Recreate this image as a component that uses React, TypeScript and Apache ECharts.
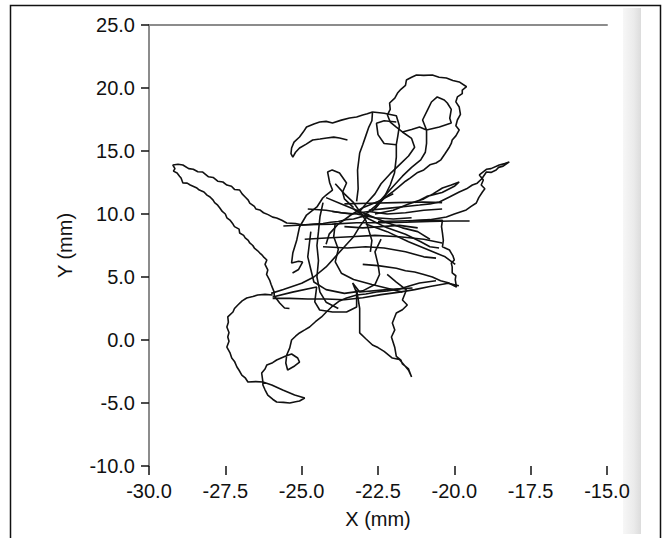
import React, { useEffect, useRef } from "react";
import * as echarts from "echarts";

const xTicks = [-30, -27.5, -25, -22.5, -20, -17.5, -15];
const yTicks = [-10, -5, 0, 5, 10, 15, 20, 25];

const wing = [[-22.8,9.9],[-23.1,9.75],[-23.3,9.6],[-23.55,9.55],[-23.8,9.4],[-24.05,9.35],[-24.3,9.25],[-24.6,9.2],[-24.97,9.13],[-25.2,9.25],[-25.49,9.29],[-25.65,9.5],[-25.82,9.68],[-25.95,9.75],[-26.1,9.95],[-26.25,10.1],[-26.37,10.32],[-26.5,10.4],[-26.55,10.6],[-26.7,10.87],[-26.75,11.1],[-26.85,11.35],[-26.95,11.6],[-27.03,11.9],[-27.2,11.95],[-27.3,12.2],[-27.45,12.3],[-27.58,12.54],[-27.75,12.6],[-27.9,12.9],[-28.05,12.95],[-28.24,13.33],[-28.4,13.35],[-28.55,13.55],[-28.7,13.6],[-28.89,13.89],[-29.05,13.95],[-29.22,13.89],[-29.15,13.6],[-29.2,13.4],[-29.08,13.25],[-29.0,13.0],[-28.95,12.85],[-28.89,12.46],[-28.75,12.45],[-28.65,12.3],[-28.43,12.06],[-28.35,11.9],[-28.2,11.75],[-28.1,11.5],[-28.0,11.35],[-27.9,11.1],[-27.85,10.9],[-27.75,10.7],[-27.68,10.48],[-27.6,10.2],[-27.5,10.0],[-27.45,9.7],[-27.35,9.52],[-27.25,9.2],[-27.2,9.0],[-27.05,8.8],[-27.03,8.49],[-26.9,8.3],[-26.85,8.1],[-26.75,7.9],[-26.7,7.7],[-26.6,7.5],[-26.55,7.3],[-26.45,7.1],[-26.37,6.9],[-26.3,6.75],[-26.25,6.6],[-26.14,6.35],[-26.2,6.0],[-26.11,5.56],[-26.15,5.2],[-26.05,4.76],[-26.0,4.4],[-25.95,4.1],[-25.9,3.8],[-25.9,3.5],[-25.8,3.2],[-25.72,2.94],[-25.56,2.54],[-25.4,2.5]];
const lowerLoop = [[-25.95,3.57],[-26.2,3.62],[-26.44,3.57],[-26.6,3.45],[-26.8,3.33],[-26.95,3.1],[-27.09,2.78],[-27.2,2.5],[-27.25,2.22],[-27.42,1.83],[-27.4,1.4],[-27.45,1.03],[-27.38,0.6],[-27.42,0.24],[-27.38,-0.1],[-27.45,-0.56],[-27.35,-1.0],[-27.29,-1.43],[-27.2,-1.7],[-27.12,-2.14],[-27.05,-2.4],[-26.96,-2.78],[-26.85,-3.0],[-26.76,-3.33],[-26.5,-3.3],[-26.27,-3.33],[-26.27,-3.57],[-26.2,-3.95],[-26.11,-4.37],[-25.95,-4.7],[-25.82,-4.92],[-25.6,-4.95],[-25.39,-5.0],[-25.2,-4.9],[-25.07,-4.84],[-24.9,-4.6],[-25.23,-4.37],[-25.62,-3.97],[-25.98,-3.57],[-26.27,-3.33],[-26.31,-2.62],[-26.2,-2.3],[-26.14,-1.98],[-25.95,-1.8],[-25.82,-1.59],[-25.52,-1.27],[-25.33,-1.11],[-25.13,-1.43],[-25.07,-1.75],[-25.23,-2.06],[-25.46,-2.38],[-25.52,-1.83],[-25.49,-1.19],[-25.39,-0.63],[-25.33,0.0],[-25.2,0.3],[-25.07,0.56],[-24.9,0.8],[-24.74,1.03],[-24.55,1.45],[-24.35,1.83],[-24.2,2.2],[-24.02,2.62],[-23.9,2.85],[-23.76,3.1],[-23.53,3.33],[-23.2,3.57],[-22.9,3.65],[-22.55,3.81],[-22.2,3.9],[-21.8,4.05],[-21.45,4.3],[-21.14,4.52],[-20.6,4.7]];
const midLine = [[-25.95,3.3],[-25.4,3.3],[-24.8,3.25],[-24.2,3.25],[-23.6,3.2],[-23.0,3.35],[-22.4,3.6],[-21.8,3.8],[-21.3,4.0],[-20.8,4.25],[-20.2,4.5],[-19.85,4.3]];
const longLine = [[-25.6,9.05],[-24.8,9.15],[-24.0,9.2],[-23.2,9.3],[-22.4,9.3],[-21.6,9.35],[-20.8,9.4],[-20.1,9.45],[-19.5,9.45]];
const smallLoop = [[-25.95,3.41],[-25.3,3.8],[-24.51,4.2],[-24.57,3.02],[-24.41,2.38],[-23.99,2.22],[-23.53,2.22],[-23.2,2.62],[-23.2,3.73],[-23.33,4.52],[-23.1,3.81],[-22.2,4.0],[-21.37,4.13]];
const rightBulge = [[-22.5,9.4],[-21.8,9.45],[-21.0,9.5],[-20.39,9.5],[-20.42,9.0],[-20.39,8.5],[-20.36,7.9],[-20.39,7.4],[-20.16,7.14],[-20.1,6.9],[-20.05,6.7],[-20.0,6.35],[-20.1,6.1],[-20.07,5.8],[-20.07,5.32],[-19.95,5.1],[-19.97,4.8],[-19.93,4.2],[-20.2,4.55],[-20.45,4.7],[-20.72,5.0],[-21.0,5.2],[-21.3,5.4],[-21.6,5.5],[-21.9,5.7],[-22.5,5.9],[-23.0,6.0]];
const bigSpoke = [[-22.8,10.3],[-22.2,10.45],[-21.6,10.6],[-21.14,10.71],[-20.8,10.8],[-20.49,10.95],[-20.16,11.35],[-19.84,11.75],[-19.6,12.0],[-19.41,12.3],[-19.25,12.45],[-19.1,12.8],[-18.95,13.33],[-18.8,13.3],[-18.63,13.49],[-18.55,13.7],[-18.4,13.8],[-18.2,14.13],[-18.35,14.0],[-18.53,13.89],[-18.8,13.6],[-18.95,13.55],[-19.18,13.1],[-19.05,12.7],[-19.12,12.3],[-19.0,12.0],[-19.08,11.75],[-19.2,11.3],[-19.28,10.87],[-19.45,10.6],[-19.61,10.32],[-20.0,10.0],[-20.26,9.76],[-20.8,9.55],[-21.5,9.45]];
const smallSpoke = [[-22.6,10.0],[-22.0,10.3],[-21.5,10.8],[-21.0,11.2],[-20.7,11.6],[-20.39,12.06],[-20.1,12.3],[-19.84,12.54],[-20.0,12.2],[-20.4,11.7],[-20.9,11.4],[-21.3,10.9]];
const topLoop = [[-22.7,10.2],[-22.55,10.6],[-22.4,11.0],[-22.25,11.35],[-22.0,11.8],[-21.85,12.1],[-21.6,12.6],[-21.45,12.85],[-21.2,13.3],[-21.0,13.5],[-20.8,13.9],[-20.6,14.05],[-20.44,14.3],[-20.3,14.8],[-20.16,15.32],[-20.1,15.6],[-20.07,15.87],[-19.95,16.2],[-19.84,16.67],[-19.95,17.0],[-19.9,17.46],[-19.8,17.9],[-19.84,18.49],[-19.95,18.9],[-19.9,19.29],[-19.74,19.55],[-19.74,19.84],[-19.6,20.1],[-19.84,20.48],[-20.05,20.6],[-20.26,20.79],[-20.5,20.85],[-20.72,21.03],[-21.0,21.0],[-21.24,21.03],[-21.4,20.85],[-21.57,20.63],[-21.6,20.2],[-21.75,19.9],[-21.86,19.6],[-21.95,19.2],[-22.12,18.81],[-22.1,18.3],[-22.19,17.86],[-22.1,17.3],[-21.9,16.9],[-21.7,16.51],[-21.4,16.0],[-21.3,15.3],[-21.5,14.6],[-21.8,13.9],[-22.1,13.2],[-22.4,12.4],[-22.6,11.6],[-22.9,10.8],[-23.1,10.2]];
const innerLoop = [[-23.0,9.8],[-22.6,10.6],[-22.3,11.4],[-22.0,12.2],[-21.7,13.0],[-21.4,13.7],[-21.1,14.3],[-20.95,14.9],[-20.91,15.6],[-20.91,16.67],[-21.04,17.46],[-20.88,18.25],[-20.75,18.89],[-20.56,19.29],[-20.33,19.05],[-20.23,18.81],[-20.1,18.3],[-20.15,17.6],[-20.1,17.22],[-20.49,16.9],[-20.91,16.67],[-21.14,16.9],[-21.4,16.7],[-21.7,16.51]];
const horn = [[-23.2,11.0],[-23.15,12.0],[-23.17,13.49],[-23.1,14.84],[-23.0,15.5],[-22.9,16.2],[-22.8,16.9],[-22.7,17.4],[-22.68,18.1],[-22.85,17.95],[-23.0,17.86],[-23.2,17.7],[-23.43,17.62],[-23.7,17.45],[-23.99,17.22],[-24.2,17.35],[-24.41,17.3],[-24.6,17.15],[-24.84,16.9],[-24.95,16.5],[-25.07,16.11],[-25.25,15.7],[-25.33,15.24],[-25.35,14.8],[-25.29,14.52],[-25.2,14.9],[-25.07,15.24],[-24.85,15.55],[-24.64,15.87],[-24.4,15.95],[-24.18,16.03],[-23.95,16.1],[-23.76,16.03],[-23.5,15.87]];
const topBox = [[-22.68,18.1],[-22.3,18.0],[-21.9,17.8],[-21.8,17.0],[-21.85,16.2],[-21.9,15.5],[-22.3,15.6],[-22.5,16.3],[-22.55,17.2],[-22.3,17.4],[-21.9,17.3]];
const downStrand = [[-21.9,15.5],[-21.9,14.52],[-21.96,13.25],[-22.1,12.3],[-22.3,11.3],[-22.6,10.4]];
const leftBlock = [[-23.3,10.5],[-23.6,11.2],[-23.66,11.75],[-23.53,12.46],[-23.76,13.25],[-24.0,13.5],[-24.15,13.33],[-24.08,12.46],[-23.99,11.9],[-24.2,11.5],[-24.31,11.27],[-24.5,10.56],[-24.84,9.92],[-25.07,8.97],[-25.16,7.94],[-25.29,6.9],[-25.33,6.11],[-25.1,6.25],[-24.97,6.19],[-25.1,5.6],[-25.3,5.32]];
const vertA = [[-24.3,10.9],[-24.4,9.8],[-24.45,8.6],[-24.5,7.5],[-24.45,6.3],[-24.5,5.0],[-24.4,3.8],[-24.2,3.0],[-23.8,2.5]];
const vertB = [[-23.9,9.3],[-23.95,8.2],[-23.8,7.2],[-23.9,6.2],[-23.7,5.3],[-23.3,4.8],[-22.7,4.4],[-22.2,4.1],[-21.7,3.8]];
const horizA = [[-23.6,10.8],[-22.8,10.85],[-21.9,10.9],[-21.0,10.95],[-20.4,10.9]];
const horizB = [[-24.9,8.0],[-24.2,8.1],[-23.4,8.2],[-22.6,8.3],[-21.8,8.2],[-21.0,8.0],[-20.4,7.7]];
const horizC = [[-24.3,7.4],[-23.5,7.3],[-22.9,7.4],[-22.3,7.3],[-21.6,7.0],[-21.0,6.6],[-20.6,6.5]];
const diagA = [[-23.3,10.4],[-22.8,9.6],[-22.2,8.9],[-21.6,8.4],[-21.1,7.8],[-20.8,7.4],[-20.5,7.3]];
const diagB = [[-22.8,10.0],[-23.1,9.0],[-23.3,8.2],[-23.6,7.4],[-23.9,6.6],[-24.2,5.8],[-24.6,5.0],[-25.0,4.5],[-25.6,4.0],[-26.0,3.7]];
const centerLoop = [[-24.7,8.6],[-24.75,7.6],[-24.8,6.6],[-24.7,5.6],[-24.6,4.6],[-24.2,4.0],[-23.6,3.7],[-23.0,3.9],[-22.6,4.4],[-22.45,5.2],[-22.5,6.0],[-22.6,7.0],[-22.4,8.0]];
const tail = [[-23.2,4.0],[-23.1,2.5],[-23.1,1.3],[-23.1,0.56],[-22.9,0.1],[-22.68,-0.4],[-22.5,-0.6],[-22.3,-0.9],[-22.03,-1.43],[-21.8,-1.55],[-21.6,-2.1],[-21.5,-2.4],[-21.4,-2.94],[-21.5,-2.3],[-21.7,-1.9],[-21.75,-1.6],[-21.9,-1.3],[-21.95,-0.6],[-22.06,0.24],[-21.95,0.8],[-22.03,1.35],[-21.9,2.14],[-21.7,2.4],[-21.54,2.78],[-21.7,3.17],[-21.57,3.97],[-21.9,4.6],[-22.2,5.2]];
const diagC = [[-22.9,9.2],[-22.2,8.6],[-21.5,7.8],[-20.9,7.2],[-20.3,6.6],[-19.97,6.0]];
const horizD = [[-24.0,10.2],[-23.4,10.0],[-22.8,10.2],[-22.2,10.0],[-21.6,10.1],[-21.0,10.3],[-20.4,10.4]];
const horizE = [[-23.6,9.0],[-23.0,8.9],[-22.4,9.0],[-21.8,9.1],[-21.2,8.9]];
const starA = [[-24.2,11.3],[-23.7,10.8],[-23.2,10.3],[-22.7,9.8],[-22.2,9.3],[-21.7,8.9],[-21.2,8.6],[-20.8,8.0]];
const starB = [[-23.9,12.4],[-23.6,11.6],[-23.3,10.9],[-23.1,10.2],[-22.9,9.5],[-22.8,8.7],[-22.7,7.9],[-22.75,7.0]];
const starC = [[-24.8,10.4],[-24.2,10.3],[-23.7,10.1],[-23.2,10.0],[-22.6,9.7],[-22.0,9.6],[-21.4,9.7]];
const starD = [[-22.0,11.6],[-22.5,11.0],[-23.0,10.5],[-23.4,9.9],[-23.8,9.2],[-24.1,8.4],[-24.2,7.6]];

const strokes = [wing, lowerLoop, midLine, longLine, smallLoop, rightBulge, bigSpoke, smallSpoke, topLoop, innerLoop, horn, topBox, downStrand, leftBlock, vertA, vertB, horizA, horizB, horizC, diagA, diagB, centerLoop, tail, diagC, horizD, horizE, starA, starB, starC, starD];

const FONT = "'Liberation Sans', Arial, sans-serif";

export default function App() {
  const ref = useRef<HTMLDivElement>(null);
  useEffect(() => {
    if (!ref.current) return;
    const chart = echarts.init(ref.current, undefined, { renderer: "svg" });
    chart.setOption({
      animation: false,
      backgroundColor: "#fff",
      grid: { left: 149, right: 56, top: 25, bottom: 72 },
      xAxis: [
        {
          type: "value", min: xTicks[0], max: xTicks[xTicks.length - 1], interval: 2.5,
          axisLine: { show: false, onZero: false },
          axisTick: { show: true, length: 9, lineStyle: { color: "#111", width: 1.5 } },
          axisLabel: { fontSize: 20, fontFamily: FONT, color: "#111", margin: 15, formatter: (v: number) => v.toFixed(1) },
          splitLine: { show: false },
          name: "X (mm)", nameLocation: "middle", nameGap: 43,
          nameTextStyle: { fontSize: 20, fontFamily: FONT, color: "#111" },
        },
        {
          type: "value", position: "top", min: xTicks[0], max: xTicks[xTicks.length - 1],
          axisLine: { show: true, onZero: false, lineStyle: { color: "#8c8c8c", width: 2 } },
          axisTick: { show: false }, axisLabel: { show: false }, splitLine: { show: false },
        },
      ],
      yAxis: {
        type: "value", min: yTicks[0], max: yTicks[yTicks.length - 1], interval: 5,
        axisLine: { show: true, onZero: false, lineStyle: { color: "#8c8c8c", width: 2 } },
        axisTick: { show: true, length: 8, lineStyle: { color: "#111", width: 1.5 } },
        axisLabel: { fontSize: 20, fontFamily: FONT, color: "#111", margin: 14, formatter: (v: number) => v.toFixed(1) },
        splitLine: { show: false },
        name: "Y (mm)", nameLocation: "middle", nameGap: 74,
        nameTextStyle: { fontSize: 20, fontFamily: FONT, color: "#111" },
      },
      graphic: [
        { type: "rect", shape: { x: 10.5, y: 5.5, width: 650, height: 545 }, style: { fill: "none", stroke: "#111", lineWidth: 1.5 }, silent: true },
        {
          type: "rect", shape: { x: 623, y: 8, width: 18, height: 526 }, silent: true,
          style: { fill: new echarts.graphic.LinearGradient(0, 0, 1, 0, [
            { offset: 0, color: "#f7f7f7" }, { offset: 0.6, color: "#ebebeb" }, { offset: 1, color: "#dcdcdc" },
          ]) },
        },
      ],
      series: strokes.map((s) => ({
        type: "line", xAxisIndex: 0, data: s, showSymbol: false, silent: true,
        lineStyle: { color: "#111", width: 1.6 },
      })),
    });
    return () => chart.dispose();
  }, []);
  return <div ref={ref} style={{ position: "fixed", left: 0, top: 0, width: 663, height: 538 }} />;
}
